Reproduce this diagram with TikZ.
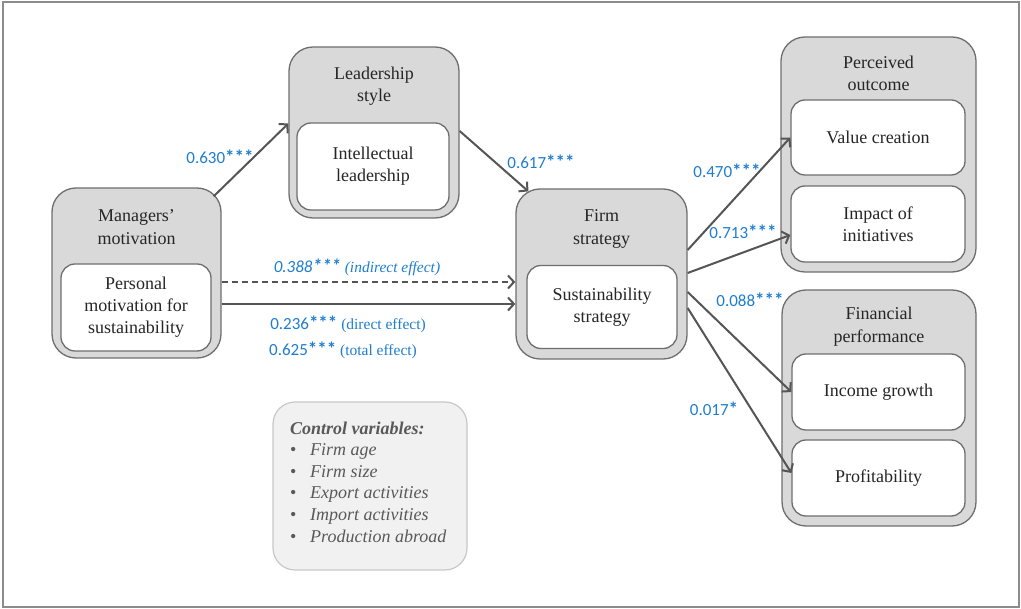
\documentclass[tikz,border=0pt]{standalone}
\usepackage{fontspec}
\setmainfont{Liberation Serif}
\newfontfamily\labfont{Carlito}
\usetikzlibrary{arrows.meta}
\definecolor{boxgray}{HTML}{D9D9D9}
\definecolor{edgegray}{HTML}{6E6E6E}
\definecolor{arrgray}{HTML}{555555}
\definecolor{labblue}{HTML}{1F7DCF}
\definecolor{txtgray}{HTML}{262626}
\definecolor{cvgray}{HTML}{595959}
\definecolor{cvfill}{HTML}{F1F1F1}
\definecolor{cvedge}{HTML}{C8C8C8}
\definecolor{framegray}{HTML}{8C8C8C}
\newcommand{\stars}[1]{{\bfseries\fontsize{19}{20}\selectfont #1}}
\tikzset{
  outerbox/.style={draw=edgegray, line width=1.3pt, fill=boxgray, rounded corners=24pt, inner sep=0pt},
  innerbox/.style={draw=edgegray, line width=1.3pt, fill=white, rounded corners=14pt, inner sep=0pt,
     align=center, font=\fontsize{18}{22}\selectfont, text=txtgray},
  titletext/.style={align=center, font=\fontsize{18}{22.5}\selectfont, text=txtgray, inner sep=0pt},
  conn/.style={draw=arrgray, line width=2pt, -{Straight Barb[length=6pt,width=13pt,line width=2pt]}},
  coef/.style={text=labblue, font=\labfont\fontsize{17}{20}\selectfont, inner sep=0pt}
}
\begin{document}
\begin{tikzpicture}[x=1pt,y=-1pt]
\useasboundingbox (0,0) rectangle (1021,609);
\draw[framegray, line width=2pt] (3,2) rectangle (1019,607);

% outer boxes
\node[outerbox, minimum width=169pt, minimum height=170pt] (mm) at (136.5,273) {};
\node[outerbox, minimum width=170pt, minimum height=171pt] (ls) at (374,132.5) {};
\node[outerbox, minimum width=171pt, minimum height=170pt] (fs) at (601.5,274) {};
\node[outerbox, minimum width=195pt, minimum height=235pt] (po) at (878.5,154.5) {};
\node[outerbox, minimum width=194pt, minimum height=236pt] (fp) at (879,408) {};

% titles
\node[titletext] (mmt) at (136.5,227) {Managers’\\motivation};
\node[titletext] (lst) at (374,86) {Leadership\\style};
\node[titletext] (fst) at (601.5,229) {Firm\\strategy};
\node[titletext] (pot) at (878.5,73.5) {Perceived\\outcome};
\node[titletext] (fpt) at (879,326.5) {Financial\\performance};

% inner boxes
\node[innerbox, minimum width=150pt, minimum height=87pt] (pm) at (136,307.5) {Personal\\motivation for\\sustainability};
\node[innerbox, minimum width=152pt, minimum height=87pt] (il) at (373,166.5) {Intellectual\\leadership};
\node[innerbox, minimum width=150pt, minimum height=83pt] (ss) at (602,307) {Sustainability\\strategy};
\node[innerbox, minimum width=174pt, minimum height=75pt] (vc) at (878,137.5) {Value creation};
\node[innerbox, minimum width=174pt, minimum height=76pt] (ii) at (878,224) {Impact of\\initiatives};
\node[innerbox, minimum width=173pt, minimum height=76pt] (ig) at (878.5,392) {Income growth};
\node[innerbox, minimum width=173pt, minimum height=76pt] (pr) at (878.5,478) {Profitability};

% control variables
\node[draw=cvedge, line width=1.2pt, fill=cvfill, rounded corners=22pt, minimum width=194pt, minimum height=168pt, inner sep=0pt] (cv) at (370,486) {};
\node[anchor=north west, inner sep=0pt, align=left, text=cvgray, font=\itshape\fontsize{18}{21.6}\selectfont] (cvt) at (290,421.5)
 {\textbf{Control variables:}\\
  \makebox[20pt][l]{\upshape\textbullet}Firm age\\
  \makebox[20pt][l]{\upshape\textbullet}Firm size\\
  \makebox[20pt][l]{\upshape\textbullet}Export activities\\
  \makebox[20pt][l]{\upshape\textbullet}Import activities\\
  \makebox[20pt][l]{\upshape\textbullet}Production abroad};

% connectors
\draw[conn] ([xshift=-8pt,yshift=-9pt]mm.north east) -- ([yshift=9pt]ls.west);
\draw[conn] ([yshift=1.5pt]ls.east) -- ([xshift=13pt,yshift=-3pt]fs.north west);
\draw[conn, dashed, dash pattern=on 6pt off 4pt, line width=1.4pt] ([yshift=-9pt]mm.east) -- ([yshift=-8pt]fs.west);
\draw[conn] ([yshift=-31pt]mm.east) -- ([yshift=-30pt]fs.west);
\draw[conn] ([yshift=24pt]fs.east) -- (vc.west);
\draw[conn] ([yshift=1pt]fs.east) -- ([yshift=-11pt]ii.west);
\draw[conn] ([yshift=-18pt]fs.east) -- ([yshift=0pt]ig.west);
\draw[conn] ([yshift=-34pt]fs.east) -- ([yshift=5pt]pr.west);

% coefficients
\node[coef] (c1) at (220,157) {0.630\stars{***}};
\node[coef] (c2) at (541,162) {0.617\stars{***}};
\node[coef] (c3) at (357,267) {\itshape 0.388\stars{***} {\rmfamily\fontsize{15.5}{18}\selectfont(indirect effect)}};
\node[coef] (c4) at (348,324) {0.236\stars{***} {\rmfamily\fontsize{15.5}{18}\selectfont(direct effect)}};
\node[coef] (c5) at (343,350) {0.625\stars{***} {\rmfamily\fontsize{15.5}{18}\selectfont(total effect)}};
\node[coef] (c6) at (727,171) {0.470\stars{***}};
\node[coef] (c7) at (743,232) {0.713\stars{***}};
\node[coef] (c8) at (750,300) {0.088\stars{***}};
\node[coef] (c9) at (714,409) {0.017\stars{*}};
\end{tikzpicture}
\end{document}
